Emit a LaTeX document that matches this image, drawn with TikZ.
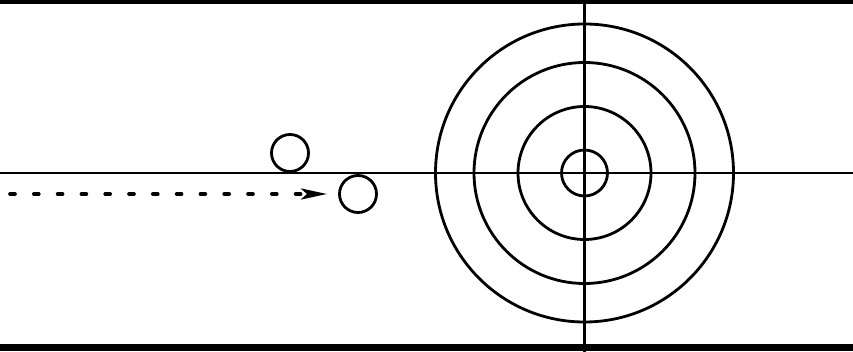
\documentclass[tikz,border=0pt]{standalone}
\usetikzlibrary{arrows.meta}
\begin{document}
\begin{tikzpicture}[x=1pt,y=-1pt,
  border/.style={line width=6pt,black},
  sheetline/.style={line width=2.6pt,black},
  ring/.style={line width=2.8pt,black},
  stone/.style={circle,draw=black,line width=2.8pt,minimum size=37pt,inner sep=0pt},
  delivery/.style={line width=3.6pt,line cap=round,dash pattern=on 5pt off 18.8pt,
    -{Stealth[length=26pt,width=11pt,inset=6pt]}}]
\useasboundingbox (0,0) rectangle (853,352);
% borders
\coordinate (tl) at (0,1);
\coordinate (tr) at (853,1);
\coordinate (bl) at (0,347.5);
\coordinate (br) at (853,347.5);
\draw[border] (tl) -- (tr);
\draw[line width=7pt] (bl) -- (br);
% centre line and tee line
\coordinate (cl) at (0,173);
\coordinate (cr) at (853,173);
\coordinate (tt) at (584.5,0);
\coordinate (tb) at (584.5,352);
\draw[sheetline] (cl) -- (cr);
\draw[sheetline] (tt) -- (tb);
% house
\coordinate (tee) at (584.5,173);
\draw[ring] (tee) circle (149pt);
\draw[ring] (tee) circle (110.5pt);
\draw[ring] (tee) circle (66.5pt);
\draw[ring] (tee) circle (23pt);
% stones
\node[stone] (stoneA) at (290,153) {};
\node[stone] (stoneB) at (358,194) {};
% delivery path
\coordinate (start) at (10,194);
\coordinate (finish) at (327,194);
\draw[delivery] (start) -- (finish);
\end{tikzpicture}
\end{document}
